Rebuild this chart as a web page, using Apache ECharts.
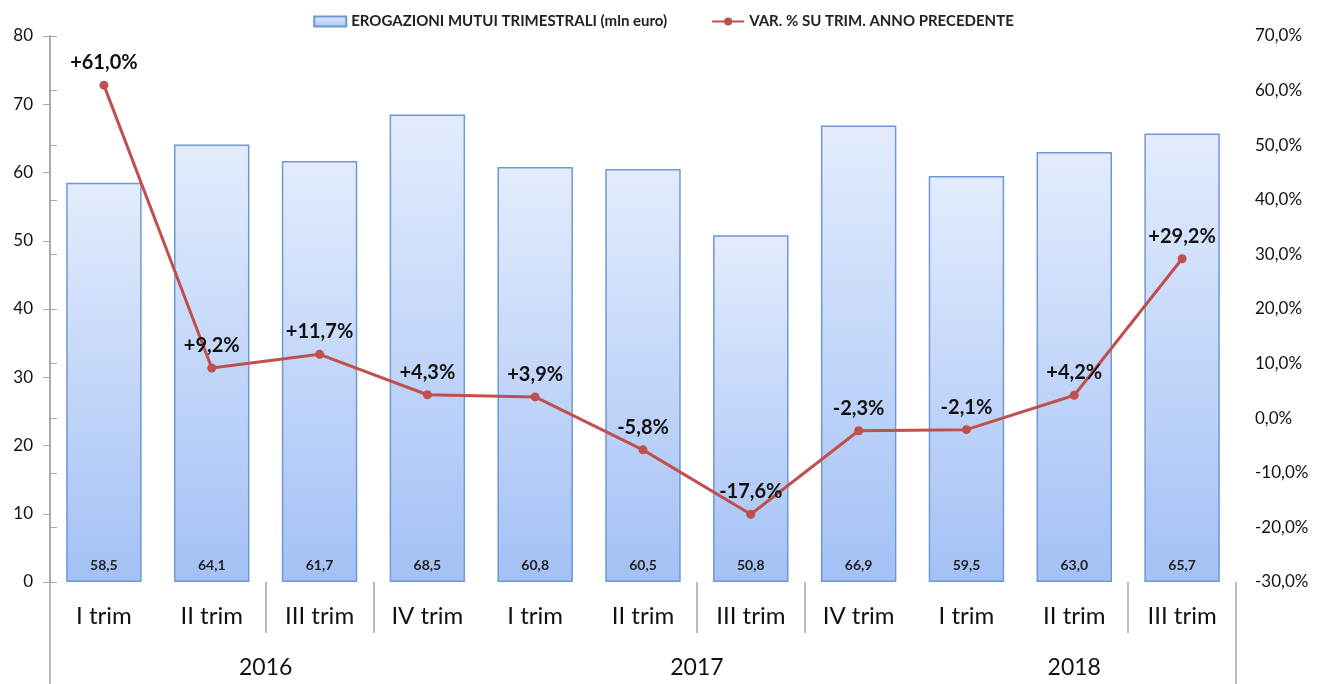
<!DOCTYPE html>
<html><head><meta charset="utf-8">
<script src="https://cdn.jsdelivr.net/npm/echarts@6/dist/echarts.min.js"></script>
<style>html,body{margin:0;padding:0;background:#fff}#c{width:1327px;height:684px}</style>
</head><body><div id="c"></div>
<script>
const categories = ['I trim','II trim','III trim','IV trim','I trim','II trim','III trim','IV trim','I trim','II trim','III trim'];
const years = ['2016','2017','2018'];
const yearCounts = [4, 4, 3];
const erogazioni = [58.5, 64.1, 61.7, 68.5, 60.8, 60.5, 50.8, 66.9, 59.5, 63.0, 65.7];
const varPerc = [61.0, 9.2, 11.7, 4.3, 3.9, -5.8, -17.6, -2.3, -2.1, 4.2, 29.2];
const leftAxisTicks = [0, 10, 20, 30, 40, 50, 60, 70, 80];
const rightAxisTicks = [-30, -20, -10, 0, 10, 20, 30, 40, 50, 60, 70];
const seriesNames = ['EROGAZIONI MUTUI TRIMESTRALI (mln euro)', 'VAR. % SU TRIM. ANNO PRECEDENTE'];

const FONT = 'Lato, "Open Sans", sans-serif';
const fmt1 = v => v.toFixed(1).replace('.', ',');

// year label centres and separators (in category units)
const yearCenters = [];
let acc = 0;
yearCounts.forEach(c => { yearCenters.push(acc + c / 2); acc += c; });
const separators = [];
categories.forEach((c, i) => { if (c === 'III trim' || c === 'IV trim') separators.push(i); });
const n = categories.length;

const chart = echarts.init(document.getElementById('c'), null, {renderer: 'canvas'});
chart.setOption({
  animation: false,
  textStyle: {fontFamily: FONT},
  legend: {
    top: 9, left: 'center', itemGap: 44, itemWidth: 32, itemHeight: 10,
    textStyle: {fontFamily: FONT, fontSize: 15, fontWeight: 'bold', color: '#222'},
    data: [{name: seriesNames[0], icon: 'rect'}, {name: seriesNames[1]}]
  },
  grid: {left: 50, right: 91, top: 36, bottom: 102, containLabel: false},
  xAxis: [
    {
      type: 'category', data: categories, position: 'bottom',
      axisLine: {show: false, onZero: false}, axisTick: {show: false},
      axisLabel: {fontSize: 24, color: '#111', margin: 22, fontFamily: FONT, interval: 0}
    },
    {
      type: 'value', min: 0, max: n, position: 'bottom',
      axisLine: {show: false, onZero: false}, splitLine: {show: false},
      axisTick: {show: true, customValues: separators, length: 51, lineStyle: {color: '#A6A6A6', width: 1.5}},
      axisLabel: {
        customValues: yearCenters, fontSize: 23, color: '#111', margin: 74, fontFamily: FONT,
        formatter: v => years[yearCenters.indexOf(v)] || ''
      }
    },
    {
      type: 'value', min: 0, max: n, position: 'bottom',
      axisLine: {show: false, onZero: false}, splitLine: {show: false},
      axisTick: {show: true, customValues: [0, n], length: 104, lineStyle: {color: '#A6A6A6', width: 1.5}},
      axisLabel: {show: false}
    }
  ],
  yAxis: [
    {
      type: 'value', min: leftAxisTicks[0], max: leftAxisTicks[leftAxisTicks.length - 1], interval: 10,
      position: 'left',
      axisLine: {show: true, lineStyle: {color: '#A6A6A6', width: 1.5}},
      axisTick: {show: true, length: 7, lineStyle: {color: '#A6A6A6'}},
      splitLine: {show: false},
      axisLabel: {fontSize: 17, color: '#111', margin: 17, fontFamily: FONT}
    },
    {
      type: 'value', min: rightAxisTicks[0], max: rightAxisTicks[rightAxisTicks.length - 1], interval: 10,
      position: 'right',
      axisLine: {show: true, lineStyle: {color: '#A6A6A6', width: 1.5}},
      axisTick: {show: true, length: 7, lineStyle: {color: '#A6A6A6'}},
      splitLine: {show: false},
      axisLabel: {fontSize: 17, color: '#111', margin: 19, fontFamily: FONT, formatter: v => fmt1(v) + '%'}
    }
  ],
  series: [
    {
      name: seriesNames[0], type: 'bar', xAxisIndex: 0, yAxisIndex: 0, barWidth: '70%',
      data: erogazioni,
      itemStyle: {
        color: new echarts.graphic.LinearGradient(0, 0, 0, 1, [
          {offset: 0, color: '#E3ECFD'}, {offset: 1, color: '#A3C1F5'}
        ]),
        borderColor: '#6F98D4', borderWidth: 1.5
      },
      label: {
        show: true, position: 'insideBottom', distance: 10,
        fontSize: 14, fontWeight: 'bold', color: '#222', fontFamily: FONT,
        formatter: p => fmt1(p.value)
      },
      z: 2
    },
    {
      name: seriesNames[1], type: 'line', xAxisIndex: 0, yAxisIndex: 1,
      data: varPerc,
      symbol: 'circle', symbolSize: 9,
      lineStyle: {color: '#C0504D', width: 3},
      itemStyle: {color: '#C0504D'},
      label: {
        show: true, position: 'top', distance: 8,
        fontSize: 20, fontWeight: 'bold', color: '#111', fontFamily: FONT,
        formatter: p => (p.value > 0 ? '+' : '') + fmt1(p.value) + '%'
      },
      z: 5
    }
  ]
});
</script></body></html>
